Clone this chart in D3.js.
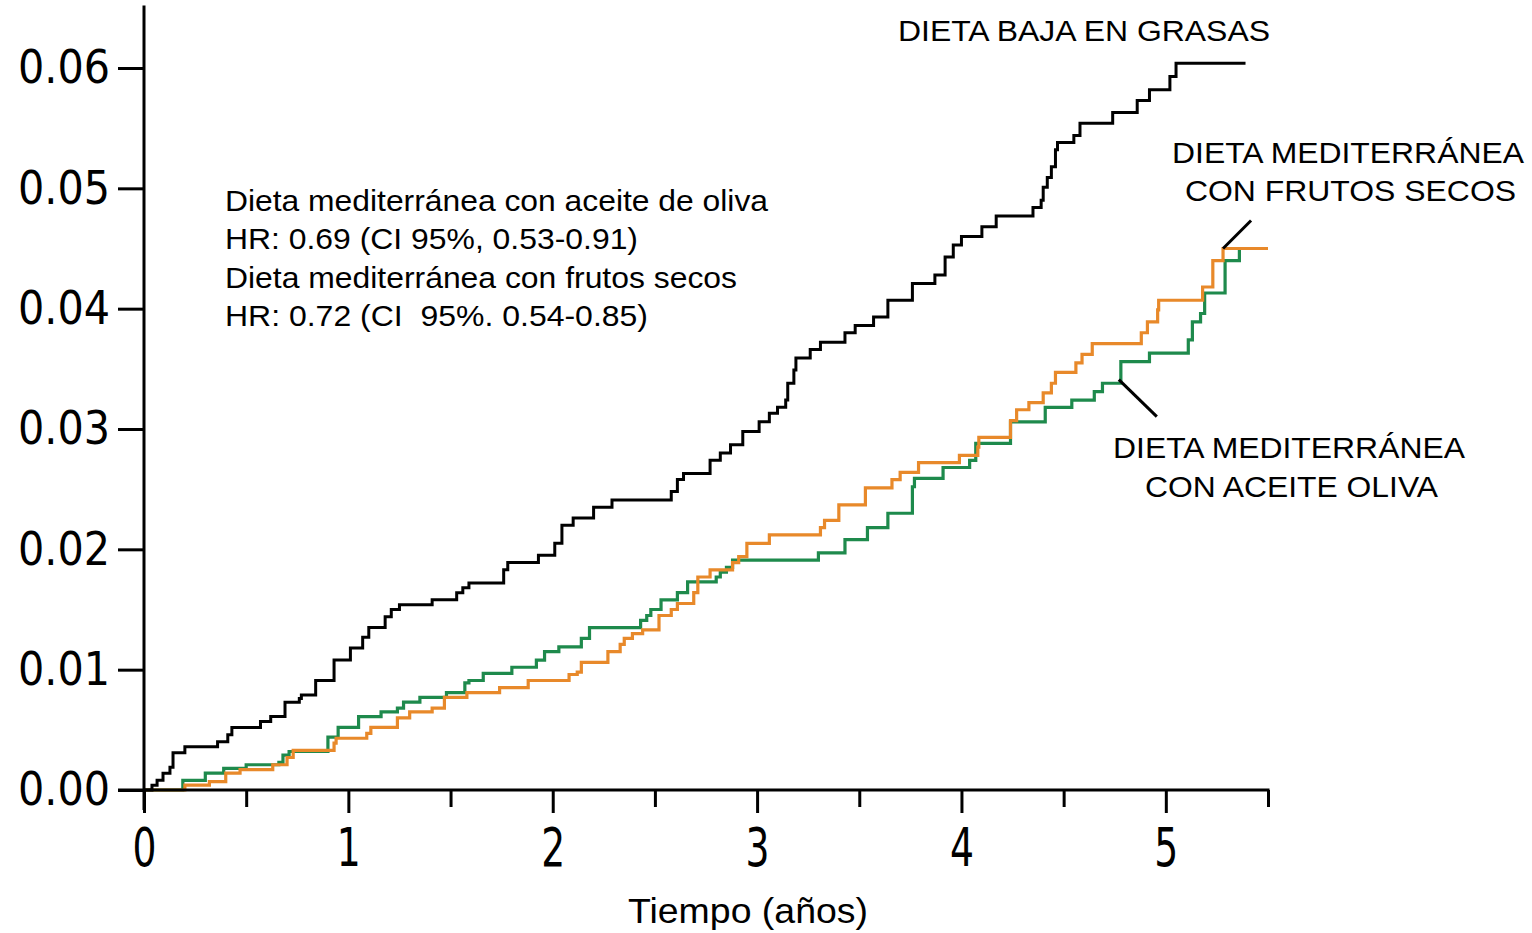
<!DOCTYPE html>
<html>
<head>
<meta charset="utf-8">
<script src="https://cdn.jsdelivr.net/npm/d3@7"></script>
<style>
html,body{margin:0;padding:0;background:#fff;}
svg{display:block;}
</style>
</head>
<body>
<svg id="chart" width="1532" height="933"></svg>
<script>
// ---- Data (years, cumulative incidence) ----
const xTicks = [0, 1, 2, 3, 4, 5];
const xMinorTicks = [0.5, 1.5, 2.5, 3.5, 4.5, 5.5];
const yTicks = [0, 0.01, 0.02, 0.03, 0.04, 0.05, 0.06];

// Dieta baja en grasas
const bajaGrasasT = [0,0.039,0.064,0.093,0.127,0.142,0.20,0.36,0.41,0.43,0.57,0.62,0.69,0.76,0.77,0.84,0.93,1.01,1.07,1.10,1.18,1.21,1.25,1.41,1.53,1.56,1.59,1.76,1.78,1.93,2.01,2.045,2.10,2.20,2.29,2.58,2.61,2.64,2.77,2.82,2.87,2.93,3.01,3.06,3.10,3.14,3.15,3.18,3.19,3.26,3.31,3.43,3.48,3.57,3.64,3.76,3.87,3.92,3.96,4.00,4.10,4.17,4.35,4.39,4.40,4.42,4.44,4.46,4.47,4.55,4.58,4.74,4.86,4.92,5.02,5.05,5.39];
const bajaGrasasV = [0,0.0004,0.0008,0.0014,0.0019,0.0031,0.0036,0.0040,0.0046,0.0052,0.0057,0.0061,0.0073,0.0076,0.0079,0.0091,0.0108,0.0118,0.0127,0.0135,0.0144,0.0150,0.0154,0.0158,0.0164,0.0168,0.0172,0.0183,0.0189,0.0195,0.0205,0.0220,0.0226,0.0235,0.0241,0.0248,0.0258,0.0263,0.0274,0.0280,0.0287,0.0298,0.0306,0.0313,0.0318,0.0324,0.0338,0.0349,0.0359,0.0366,0.0372,0.0380,0.0386,0.0393,0.0407,0.0421,0.0428,0.0443,0.0453,0.0460,0.0468,0.0477,0.0484,0.0490,0.0501,0.0509,0.0518,0.0532,0.0538,0.0544,0.0554,0.0563,0.0573,0.0582,0.0593,0.0604,0.0604];

// Dieta mediterránea con aceite de oliva
const aceiteT = [0,0.19,0.30,0.39,0.50,0.66,0.68,0.71,0.90,0.95,1.05,1.16,1.24,1.27,1.35,1.48,1.57,1.59,1.66,1.80,1.92,1.96,2.03,2.14,2.18,2.43,2.46,2.48,2.53,2.61,2.66,2.80,2.82,2.85,2.88,3.30,3.43,3.54,3.64,3.76,3.77,3.91,4.04,4.07,4.24,4.41,4.54,4.65,4.69,4.78,4.92,5.11,5.13,5.17,5.19,5.29,5.36,5.50];
const aceiteV = [0,0.0008,0.0014,0.0018,0.0021,0.0023,0.0029,0.0032,0.0044,0.0052,0.0061,0.0065,0.0068,0.0073,0.0077,0.0081,0.0089,0.0091,0.0097,0.0102,0.0108,0.0115,0.0119,0.0126,0.0135,0.0141,0.0145,0.0150,0.0158,0.0164,0.0173,0.0177,0.0181,0.0185,0.0191,0.0197,0.0208,0.0218,0.0230,0.0252,0.0259,0.0268,0.0274,0.0288,0.0306,0.0318,0.0324,0.0331,0.0338,0.0356,0.0363,0.0374,0.0389,0.0396,0.0413,0.0440,0.0450,0.0450];

// Dieta mediterránea con frutos secos
const frutosT = [0,0.20,0.32,0.40,0.47,0.63,0.70,0.73,0.93,0.94,1.09,1.11,1.24,1.30,1.41,1.47,1.58,1.74,1.88,2.08,2.12,2.14,2.27,2.33,2.35,2.39,2.44,2.52,2.58,2.61,2.69,2.71,2.77,2.88,2.91,2.95,3.06,3.31,3.33,3.40,3.53,3.66,3.70,3.79,3.99,4.08,4.085,4.24,4.27,4.33,4.40,4.44,4.46,4.56,4.59,4.64,4.88,4.91,4.96,4.965,5.18,5.23,5.28,5.50];
const frutosV = [0,0.0004,0.0007,0.0014,0.0017,0.0021,0.0027,0.0033,0.0039,0.0043,0.0047,0.0052,0.0060,0.0065,0.0068,0.0077,0.0081,0.0085,0.0091,0.0096,0.0098,0.0106,0.0115,0.0121,0.0126,0.0130,0.0133,0.0145,0.0150,0.0155,0.0164,0.0177,0.0183,0.0189,0.0194,0.0205,0.0212,0.0218,0.0224,0.0237,0.0251,0.0258,0.0264,0.0272,0.0278,0.0285,0.0293,0.0307,0.0316,0.0322,0.0330,0.0338,0.0347,0.0355,0.0362,0.0371,0.0380,0.0389,0.0399,0.0407,0.0418,0.0440,0.0450,0.0450];

const seriesNames = ["DIETA BAJA EN GRASAS", "DIETA MEDITERRÁNEA CON ACEITE OLIVA", "DIETA MEDITERRÁNEA CON FRUTOS SECOS"];
const seriesColors = ["#000000", "#1e8a4c", "#e8892a"];

const noteLines = [
  "Dieta mediterránea con aceite de oliva",
  "HR: 0.69 (CI 95%, 0.53-0.91)",
  "Dieta mediterránea con frutos secos",
  "HR: 0.72 (CI  95%. 0.54-0.85)"
];
const noteWidths = [543, 413, 512, 423];

// ---- Build ----
const svg = d3.select("#chart");
const x = d3.scaleLinear().domain([0, 5.5]).range([144, 1268]);
const y = d3.scaleLinear().domain([0, 0.06]).range([790, 68]);

const series = [
  {t: bajaGrasasT, v: bajaGrasasV},
  {t: aceiteT, v: aceiteV},
  {t: frutosT, v: frutosV}
].map((s, i) => ({name: seriesNames[i], color: seriesColors[i], pts: s.t.map((t, j) => [t, s.v[j]])}));

const line = d3.line().x(d => x(d[0])).y(d => y(d[1])).curve(d3.curveStepAfter);

// Curves (green, then orange over it, black last)
[1, 2, 0].forEach(i => {
  svg.append("path")
    .datum(series[i].pts)
    .attr("d", line)
    .attr("fill", "none")
    .attr("stroke", series[i].color)
    .attr("stroke-width", i === 0 ? 3 : 3.2);
});

// Y axis
const yAxis = svg.append("g").attr("transform", `translate(${x(0)},0)`)
  .call(d3.axisLeft(y).tickValues(yTicks).tickFormat(d3.format(".2f")).tickSize(26).tickPadding(8).tickSizeOuter(0));
yAxis.select(".domain").remove();
yAxis.selectAll(".tick line").attr("stroke", "#000").attr("stroke-width", 3);
yAxis.selectAll(".tick text")
  .attr("font-family", "DejaVu Sans, sans-serif")
  .attr("font-size", 46)
  .attr("fill", "#000")
  .attr("textLength", 92)
  .attr("lengthAdjust", "spacingAndGlyphs");
svg.append("line")
  .attr("x1", x(0)).attr("x2", x(0))
  .attr("y1", y(0.0652)).attr("y2", 810)
  .attr("stroke", "#000").attr("stroke-width", 3);

// X axis
const xAxis = svg.append("g").attr("transform", `translate(0,${y(0)})`)
  .call(d3.axisBottom(x).tickValues(xTicks).tickFormat(d3.format("d")).tickSize(23).tickPadding(15).tickSizeOuter(0));
xAxis.select(".domain").remove();
xAxis.selectAll(".tick line").attr("stroke", "#000").attr("stroke-width", 3);
xAxis.selectAll(".tick text")
  .attr("font-family", "DejaVu Sans, sans-serif")
  .attr("font-size", 54)
  .attr("fill", "#000")
  .attr("textLength", 24)
  .attr("lengthAdjust", "spacingAndGlyphs");
const xMinor = svg.append("g").attr("transform", `translate(0,${y(0)})`)
  .call(d3.axisBottom(x).tickValues(xMinorTicks).tickFormat("").tickSize(17).tickSizeOuter(0));
xMinor.select(".domain").remove();
xMinor.selectAll(".tick line").attr("stroke", "#000").attr("stroke-width", 3);
svg.append("line")
  .attr("x1", 118).attr("x2", x(5.5) + 1.5)
  .attr("y1", y(0)).attr("y2", y(0))
  .attr("stroke", "#000").attr("stroke-width", 3);

// Axis title
svg.append("text")
  .attr("x", 628).attr("y", 923)
  .attr("font-family", "Liberation Sans, Arial, sans-serif")
  .attr("font-size", 35)
  .attr("fill", "#000")
  .attr("textLength", 240)
  .attr("lengthAdjust", "spacingAndGlyphs")
  .text("Tiempo (años)");

const labelFamily = "Liberation Sans, Arial, sans-serif";
const labelSize = 30;

// Note block
noteLines.forEach((s, i) => {
  svg.append("text")
    .attr("x", 225).attr("y", 211 + i * 38.3)
    .attr("font-family", labelFamily)
    .attr("font-size", labelSize)
    .attr("fill", "#000")
    .attr("xml:space", "preserve")
    .style("white-space", "pre")
    .attr("textLength", noteWidths[i])
    .attr("lengthAdjust", "spacingAndGlyphs")
    .text(s);
});

function label(txt, x0, yb, w) {
  svg.append("text")
    .attr("x", x0).attr("y", yb)
    .attr("font-family", labelFamily).attr("font-size", labelSize)
    .attr("fill", "#000")
    .attr("textLength", w)
    .attr("lengthAdjust", "spacingAndGlyphs")
    .text(txt);
}

// Label: baja en grasas
label("DIETA BAJA EN GRASAS", 898, 41, 372);

// Label: frutos secos
label("DIETA MEDITERRÁNEA", 1172, 163, 352);
label("CON FRUTOS SECOS", 1185, 201, 331);
svg.append("line")
  .attr("x1", x(5.28)).attr("y1", y(0.045))
  .attr("x2", x(5.28) + 28).attr("y2", y(0.045) - 28)
  .attr("stroke", "#000").attr("stroke-width", 3);

// Label: aceite oliva
label("DIETA MEDITERRÁNEA", 1113, 458, 352);
label("CON ACEITE OLIVA", 1145, 497, 293);
svg.append("line")
  .attr("x1", x(4.77)).attr("y1", y(0.0341))
  .attr("x2", x(4.77) + 38).attr("y2", y(0.0341) + 37)
  .attr("stroke", "#000").attr("stroke-width", 3);
</script>
</body>
</html>
